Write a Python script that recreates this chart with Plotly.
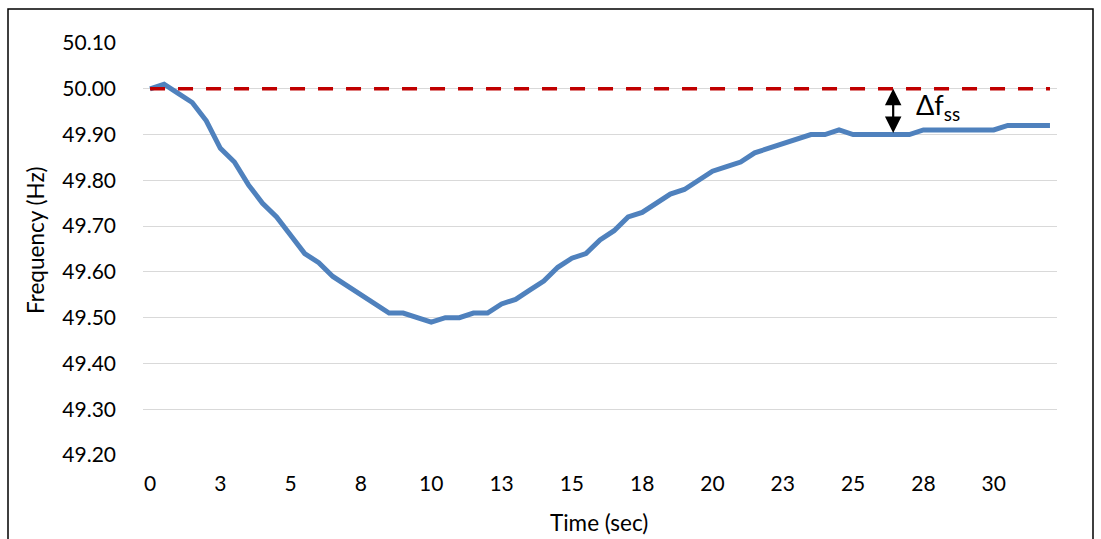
import plotly.graph_objects as go

# Time (s) at 0.5 s steps, frequency (Hz)
time_s = [i * 0.5 for i in range(65)]
freq_hz = [50.00, 50.01, 49.99, 49.97, 49.93, 49.87, 49.84, 49.79, 49.75, 49.72,
           49.68, 49.64, 49.62, 49.59, 49.57, 49.55, 49.53, 49.51, 49.51, 49.50,
           49.49, 49.50, 49.50, 49.51, 49.51, 49.53, 49.54, 49.56, 49.58, 49.61,
           49.63, 49.64, 49.67, 49.69, 49.72, 49.73, 49.75, 49.77, 49.78, 49.80,
           49.82, 49.83, 49.84, 49.86, 49.87, 49.88, 49.89, 49.90, 49.90, 49.91,
           49.90, 49.90, 49.90, 49.90, 49.90, 49.91, 49.91, 49.91, 49.91, 49.91,
           49.91, 49.92, 49.92, 49.92, 49.92]
nominal_hz = [50.00] * len(time_s)
tick_idx = list(range(0, 65, 5))
tick_labels = ["0", "3", "5", "8", "10", "13", "15", "18", "20", "23", "25", "28", "30"]
y_ticks = [49.2, 49.3, 49.4, 49.5, 49.6, 49.7, 49.8, 49.9, 50.0, 50.1]

cat = list(range(len(time_s)))
FONT = "Lato"

fig = go.Figure()
fig.add_trace(go.Scatter(x=cat, y=freq_hz, mode="lines",
                         line=dict(color="#4F81BD", width=5), showlegend=False))
fig.add_trace(go.Scatter(x=cat, y=nominal_hz, mode="lines",
                         line=dict(color="#C00000", width=3.5, dash="15px,13px"),
                         showlegend=False))

L, R, T, B = 143, 44, 43, 84
W, H = 1101, 539
pw, ph = W - L - R, H - T - B

def px_x(p):
    return (p - L) / pw

def px_y(p):
    return (H - B - p) / ph

fig.update_layout(
    width=W, height=H,
    margin=dict(l=L, r=R, t=T, b=B),
    paper_bgcolor="white", plot_bgcolor="white",
    font=dict(family=FONT, size=21, color="#000000"),
    xaxis=dict(range=[-0.5, 64.5], tickmode="array", tickvals=tick_idx,
               ticktext=tick_labels, showgrid=False, zeroline=False,
               showline=False, ticks="", ticklabelstandoff=14,
               tickfont=dict(size=21)),
    yaxis=dict(range=[49.2, 50.1], tickmode="array", tickvals=y_ticks,
               ticktext=[f"{v:.2f}" for v in y_ticks], showgrid=True,
               gridcolor="#D9D9D9", gridwidth=1.3, zeroline=False, showline=False,
               ticks="", ticklabelstandoff=26, tickfont=dict(size=21)),
    shapes=[dict(type="rect", xref="paper", yref="paper",
                 x0=px_x(8), x1=px_x(1093), y0=px_y(545), y1=px_y(9),
                 line=dict(color="black", width=1.5), fillcolor="rgba(0,0,0,0)",
                 layer="below")],
    annotations=[
        dict(text="Time (sec)", xref="paper", yref="paper", x=px_x(599), y=px_y(522),
             showarrow=False, font=dict(size=22.5), xanchor="center", yanchor="middle"),
        dict(text="Frequency (Hz)", xref="paper", yref="paper", x=px_x(35), y=px_y(240),
             showarrow=False, textangle=-90, font=dict(size=22.5),
             xanchor="center", yanchor="middle"),
        dict(x=52.85, y=50.00, ax=52.85, ay=49.90, xref="x", yref="y", axref="x", ayref="y",
             text="", showarrow=True, arrowhead=2, startarrowhead=2, arrowside="end+start",
             arrowsize=1.5, startarrowsize=1.5, arrowwidth=2.2, arrowcolor="black"),
        dict(x=(911 - 150) / 14, y=49.962, xref="x", yref="y", text="Δf<sub>ss</sub>",
             showarrow=False, xanchor="left", yanchor="middle",
             font=dict(size=27, color="black")),
    ],
)

fig.write_html("out.html")
